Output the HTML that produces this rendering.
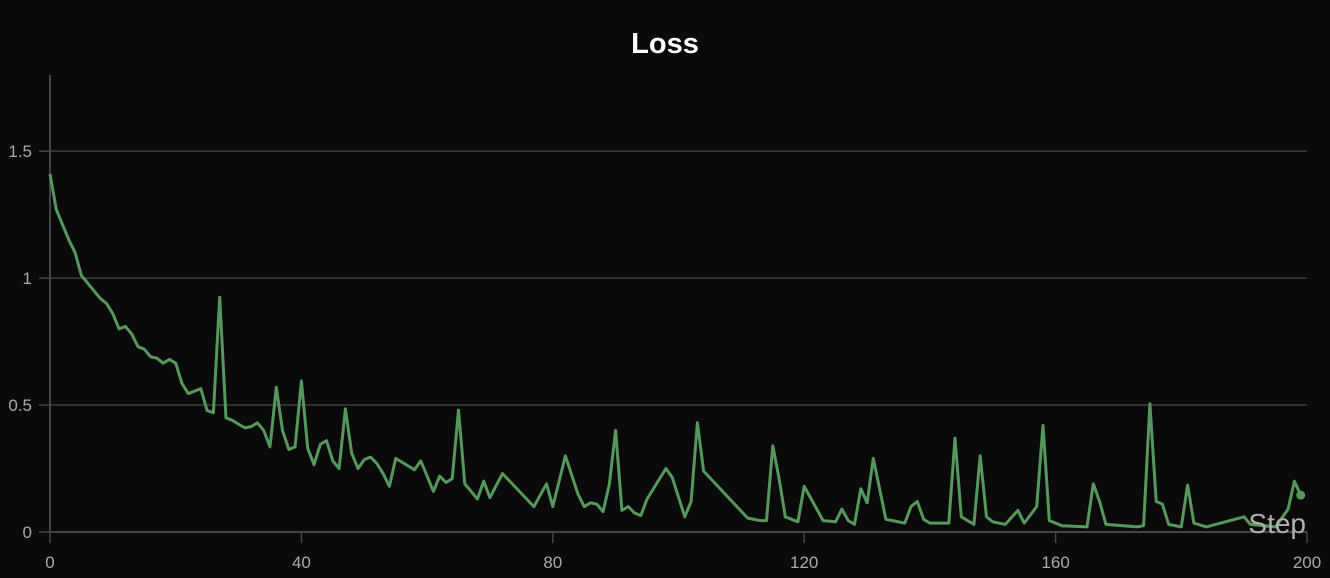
<!DOCTYPE html>
<html><head><meta charset="utf-8"><style>
html,body{margin:0;padding:0;background:#0a0a0a;}
svg{display:block;font-family:"Liberation Sans",sans-serif;}
</style></head><body>
<svg id="chart" width="1330" height="578">
<rect width="1330" height="578" fill="#0a0a0a"/>
<text x="665" y="53" text-anchor="middle" fill="#fff" font-size="29" font-weight="bold">Loss</text>
<g id="grid"></g><g id="axes"></g><g id="series"></g>
<text x="1306" y="533" text-anchor="end" fill="#b0b0b0" font-size="28">Step</text>
</svg>
<script>
const steps=[0,1,2,3,4,5,6,7,8,9,10,11,12,13,14,15,16,17,18,19,20,21,22,23,24,25,26,27,28,29,30,31,32,33,34,35,36,37,38,39,40,41,42,43,44,45,46,47,48,49,50,51,52,53,54,55,56,57,58,59,60,61,62,63,64,65,66,68,69,70,72,77,79,80,82,84,85,86,87,88,89,90,91,92,93,94,95,98,99,101,102,103,104,111,113,114,115,116,117,119,120,123,125,126,127,128,129,130,131,133,136,137,138,139,140,143,144,145,147,148,149,150,152,154,155,157,158,159,161,165,166,167,168,173,174,175,176,177,178,180,181,182,184,190,191,195,197,198,199];
const losses=[1.41,1.27,1.21,1.15,1.10,1.01,0.98,0.95,0.92,0.90,0.86,0.80,0.81,0.78,0.73,0.72,0.69,0.685,0.665,0.68,0.665,0.585,0.545,0.555,0.565,0.478,0.47,0.925,0.45,0.44,0.425,0.41,0.415,0.43,0.40,0.335,0.57,0.40,0.325,0.335,0.595,0.33,0.265,0.345,0.36,0.28,0.25,0.485,0.31,0.25,0.285,0.295,0.27,0.23,0.18,0.29,0.275,0.26,0.245,0.28,0.22,0.16,0.22,0.195,0.21,0.48,0.19,0.13,0.20,0.135,0.23,0.10,0.19,0.10,0.30,0.15,0.10,0.115,0.11,0.08,0.19,0.40,0.085,0.10,0.075,0.065,0.13,0.25,0.215,0.06,0.12,0.43,0.24,0.055,0.045,0.045,0.34,0.21,0.06,0.04,0.18,0.045,0.04,0.09,0.045,0.03,0.17,0.115,0.29,0.05,0.035,0.10,0.12,0.05,0.035,0.035,0.37,0.06,0.03,0.30,0.06,0.04,0.03,0.085,0.035,0.10,0.42,0.045,0.025,0.02,0.19,0.12,0.03,0.02,0.025,0.505,0.12,0.11,0.03,0.02,0.185,0.035,0.02,0.06,0.03,0.02,0.09,0.20,0.145];
const yTicks=[0,0.5,1,1.5];
const yTickLabels=["0","0.5","1","1.5"];
const xTicks=[0,40,80,120,160,200];
const NS="http://www.w3.org/2000/svg";
const X0=50,X1=1307,Y0=532,YMAX=1.8,YTOP=75;
const xs=v=>X0+(v-0)/(200-0)*(X1-X0);
const ys=v=>Y0-v/YMAX*(Y0-YTOP);
function mk(tag,attrs,parent){const e=document.createElementNS(NS,tag);for(const k in attrs)e.setAttribute(k,attrs[k]);parent.appendChild(e);return e;}
const grid=document.getElementById('grid'),axes=document.getElementById('axes'),series=document.getElementById('series');
yTicks.forEach((t,i)=>{
  const y=ys(t);
  if(t>0){const g=mk('line',{x1:X0,x2:X1,y1:y,y2:y,stroke:'#3c3c3c','stroke-width':1.5},grid);
  
  }
  const tk=mk('line',{x1:X0-11,x2:X0,y1:y,y2:y,stroke:'#444','stroke-width':1.5},axes);
  
  
  const tx=mk('text',{x:X0-18,y:y+6,'text-anchor':'end',fill:'#aaa','font-size':17},axes);
  tx.textContent=yTickLabels[i];
  
  
});
const ya=mk('line',{x1:X0,x2:X0,y1:YTOP,y2:Y0,stroke:'#444','stroke-width':2},axes);


const xa=mk('line',{x1:X0,x2:X1,y1:Y0,y2:Y0,stroke:'#444','stroke-width':2},axes);


xTicks.forEach(t=>{
  const x=xs(t);
  const tk=mk('line',{x1:x,x2:x,y1:Y0,y2:Y0+11,stroke:'#444','stroke-width':1.5},axes);
  
  
  const tx=mk('text',{x:x,y:568,'text-anchor':'middle',fill:'#aaa','font-size':17},axes);
  tx.textContent=String(t);
  
  
});
const d=steps.map((s,i)=>(i?'L':'M')+xs(s).toFixed(1)+' '+ys(losses[i]).toFixed(1)).join(' ');
const p=mk('path',{d:d,fill:'none',stroke:'#55975c','stroke-width':3,'stroke-linejoin':'round'},series);


const last=steps.length-1;
const dot=mk('circle',{cx:xs(steps[last]),cy:ys(losses[last]),r:4.5,fill:'#55975c'},series);


</script>
</body></html>
